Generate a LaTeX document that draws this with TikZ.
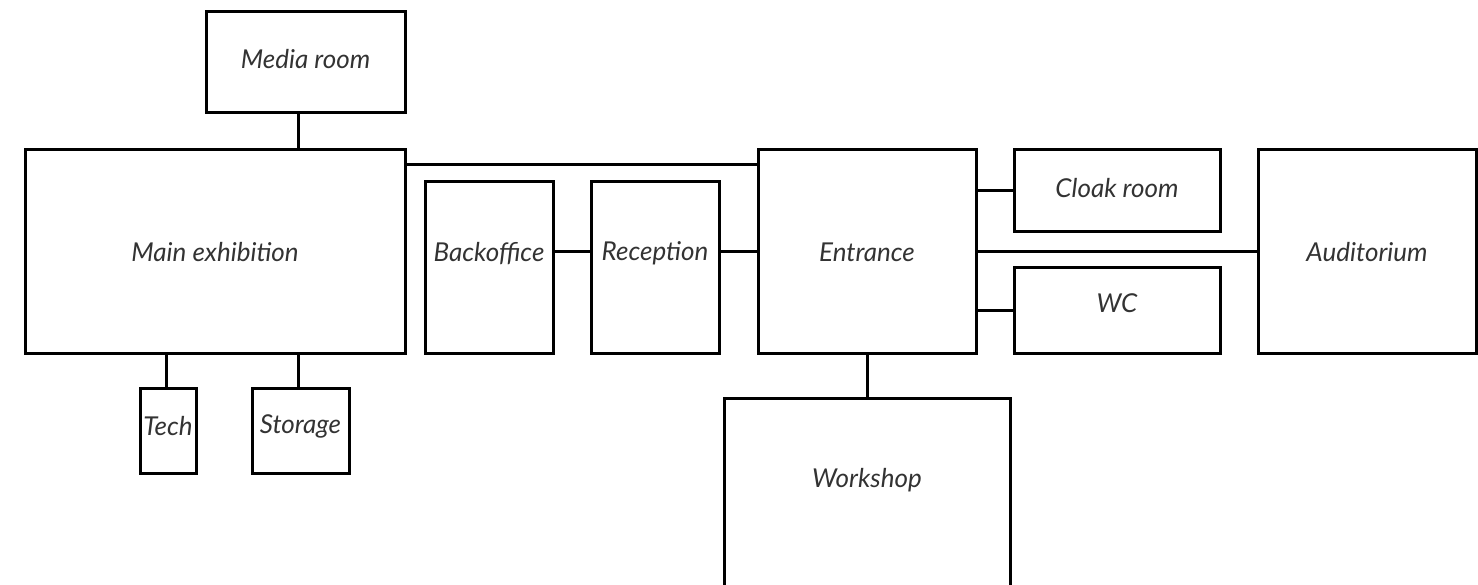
\documentclass[tikz,border=0pt]{standalone}
\usepackage{fontspec}
\setmainfont{Lato}
\definecolor{labelgray}{HTML}{333333}
\begin{document}
\begin{tikzpicture}[x=1pt, y=-1pt,
    room/.style={draw, line width=3pt, inner sep=0pt, outer sep=0pt},
    roomlabel/.style={text=labelgray, inner sep=0pt, font=\fontsize{26}{30}\selectfont\itshape},
    link/.style={line width=3pt}]
    \useasboundingbox (0,0) rectangle (1478,585);
    \clip (0,0) rectangle (1478,585);
    % Left wing
    \node[room, minimum width=199, minimum height=101,
      label={[roomlabel, yshift=3pt]center:Media room}] (media) at (305.5,62.5) {};
    \node[room, minimum width=380, minimum height=203,
      label={[roomlabel, yshift=-1pt]center:Main exhibition}] (main) at (215,251.5) {};
    \node[room, minimum width=56, minimum height=85,
      label={[roomlabel, yshift=4pt]center:Tech}] (tech) at (168,430.5) {};
    \node[room, minimum width=97, minimum height=85,
      label={[roomlabel, yshift=4pt]center:Storage}] (storage) at (300.5,430.5) {};

    % Middle
    \node[room, minimum width=128, minimum height=171,
      label={[roomlabel, yshift=14pt]center:Backoffice}] (backoffice) at (489,267.5) {};
    \node[room, minimum width=128, minimum height=171,
      label={[roomlabel, yshift=14pt]center:Reception}] (reception) at (655,267.5) {};
    \node[room, minimum width=218, minimum height=203,
      label={[roomlabel, yshift=-1pt]center:Entrance}] (entrance) at (867,251.5) {};
    \node[room, minimum width=286, minimum height=222,
      label={[roomlabel, yshift=29pt]center:Workshop}] (workshop) at (867,509) {};

    % Right wing
    \node[room, minimum width=206, minimum height=82,
      label={[roomlabel, yshift=3pt]center:Cloak room}] (cloak) at (1117,191) {};
    \node[room, minimum width=206, minimum height=85,
      label={[roomlabel, yshift=7pt]center:WC}] (wc) at (1117,310.5) {};
    \node[room, minimum width=218, minimum height=203,
      label={[roomlabel, yshift=-1pt]center:Auditorium}] (auditorium) at (1367,251.5) {};

    % Corridors
    \draw[link] ([xshift=-7pt]media.south) -- ([xshift=-7pt]media.south |- main.north);
    \draw[link] ([xshift=-2pt]tech.north |- main.south) -- ([xshift=-2pt]tech.north);
    \draw[link] ([xshift=-2pt]storage.north |- main.south) -- ([xshift=-2pt]storage.north);
    \draw[link] ([yshift=-15pt]main.north east) -- ([yshift=-15pt]entrance.north west);
    \draw[link] (backoffice.east |- entrance.west) -- (reception.west |- entrance.west);
    \draw[link] (reception.east |- entrance.west) -- (entrance.west);
    \draw[link] (entrance.east |- cloak.west) -- (cloak.west);
    \draw[link] (entrance.east) -- (auditorium.west);
    \draw[link] (entrance.east |- wc.west) -- (wc.west);
    \draw[link] (entrance.south) -- (workshop.north);
  \end{tikzpicture}
\end{document}
